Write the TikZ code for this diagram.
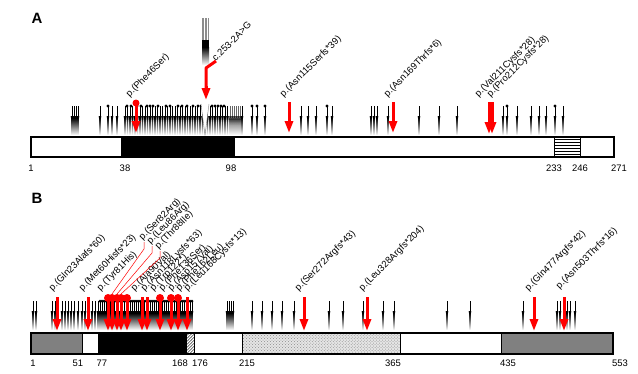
\documentclass[tikz,border=0pt]{standalone}
\usepackage{fontspec}
\setmainfont{Liberation Sans}
\usetikzlibrary{positioning,arrows.meta,patterns}

\begin{document}
\begin{tikzpicture}[x=1bp,y=-1bp]
    \tikzset{mut/.style={font=\fontsize{9.5}{11}\selectfont,rotate=45,anchor=south west,inner sep=0pt},
      num/.style={font=\fontsize{9.5}{11}\selectfont,inner sep=0pt},
      panel/.style={font=\fontsize{15}{17}\selectfont\bfseries,inner sep=0pt},
      redarr/.style={red,line width=3bp,-{Triangle[length=12bp,width=8bp]}},
      rdot/.style={red},
      blk/.pic={
        \draw[line width=0.6bp] (0,0) -- (0,12);
        \fill (-1.3,10) -- (1.3,10) -- (0,19) -- cycle;
        \shade[top color=black,bottom color=white] (-0.6,12) rectangle (0.6,29);
      }}
    \useasboundingbox (0,0) rectangle (638,373);

    %% Teil A
    \node[panel] (pa) at (37,18) {A};

    % Marker oben
    \foreach \x in {72,74,76,78,100,108,112,117,242,252,257,265,301,308,316,327,332,
                    371,374,377,388,419,439,457,503,507,517,531,539,546,555,563}
      \pic at (\x,106) {blk};
    \foreach \x in {125,127.5,...,228}
      \pic at (\x,106) {blk};
    \foreach \x in {230,232,...,240}
      \pic[opacity=0.6] at (\x,106) {blk};
    \foreach \x in {108,127,131,137,141,147,150,153,158,166,170,178,182,187,193,198,
                    201,212,215,218,221,224,252,257,265,327,507,555}
      \fill (\x,106) circle (1.7);

    % Stapel ueber c.253-2A>G
    \foreach \x in {202,203.5,...,209}
      \draw[black!45,line width=0.5bp] (\x,18) -- (\x,40);
    \fill (202,40) rectangle (209,47);
    \shade[top color=black,bottom color=white] (202,47) rectangle (209,65);
    \fill[white] (201,104) -- (209,104) -- (205,135) -- cycle;
    \draw[black!50,line width=0.4bp] (201,104) -- (205,135) -- (209,104);

    % rote Pfeile
    \fill[rdot] (136,103) circle (3.5);
    \draw[redarr] (136,103) -- (136,133);
    \draw[red,line width=3bp,line join=round] (216,61) -- (206,68) -- (206,88);
    \draw[redarr] (206,86) -- (206,100);
    \draw[redarr] (289,102) -- (289,133);
    \draw[redarr] (393,102) -- (393,133);
    \draw[redarr] (489,102) -- (489,134);
    \draw[redarr] (492,102) -- (492,134);

    \node[mut] (phe46) at (131,99) {p.(Phe46Ser)};
    \node[mut] (c253) at (216,62) {c.253-2A>G};
    \node[mut] (asn115) at (285,99) {p.(Asn115Serfs*39)};
    \node[mut] (asn169) at (389,99) {p.(Asn169Thrfs*6)};
    \node[mut] (val211) at (480,99) {p.(Val211Cysfs*28)};
    \node[mut] (pro212) at (492,99) {p.(Pro212Cysfs*28)};

    % Balken A
    \fill (121,137) rectangle (235,157);
    \fill[white] (554,137) rectangle (580,157);
    \fill[pattern=horizontal lines] (554,137) rectangle (580,157);
    \draw[line width=0.6bp] (554,137) -- (554,157) (580,137) -- (580,157);
    \draw[line width=2.2bp] (31,137) rectangle (614,157);

    \node[num] (a1) at (31,168) {1};
    \node[num] (a38) at (125,168) {38};
    \node[num] (a98) at (231,168) {98};
    \node[num] (a233) at (554,168) {233};
    \node[num] (a246) at (580,168) {246};
    \node[num] (a271) at (619,168) {271};

    %% Teil B
    \node[panel] (pb) at (37,198) {B};

    \foreach \x in {33,36,52,55,62,65,68,71,74,78,82,85,92,95,98,227,229,231,233,
                    252,262,272,282,294,329,343,363,383,394,447,470,523,557,560,567,570,575}
      \pic at (\x,301) {blk};
    \foreach \x in {100,102,...,192}
      \pic at (\x,301) {blk};
    \foreach \x in {100,102,...,192}
      \fill (\x,301) circle (1.5);

    % rote Pfeile
    \foreach \x in {108,112,117,121,127,160,171,178}{
      \fill[rdot] (\x,298) circle (4);
      \draw[redarr] (\x,298) -- (\x,331);
    }
    \foreach \x in {57,88,142,147,187,304,367,534,564}
      \draw[redarr] (\x,297) -- (\x,331);

    \node[mut] (gln23) at (54,293) {p.(Gln23Alafs*60)};
    \node[mut] (met60) at (84,293) {p.(Met60Hisfs*23)};
    \node[mut] (tyr81) at (102,293) {p.(Tyr81His)};
    \node[mut] (ser82) at (144,242) {p.(Ser82Arg)};
    \node[mut] (leu86) at (152,246) {p.(Leu86Arg)};
    \node[mut] (thr88) at (160,251) {p.(Thr88Ile)};
    \node[mut] (ala90) at (136,293) {p.(Ala90Val)};
    \node[mut] (asn118) at (146,293) {p.(Asn118Lysfs*63)};
    \node[mut] (trp122) at (155,293) {p.(Trp122*)};
    \node[mut] (phe136) at (164,293) {p.(Phe136Ser)};
    \node[mut] (asp157) at (173,293) {p.(Asp157Val)};
    \node[mut] (phe162) at (181,293) {p.(Phe162Leu)};
    \node[mut] (leu168) at (189,293) {p.(Leu168Cysfs*13)};
    \node[mut] (ser272) at (300,293) {p.(Ser272Argfs*43)};
    \node[mut] (leu328) at (364,293) {p.(Leu328Argfs*204)};
    \node[mut] (gln477) at (530,293) {p.(Gln477Argfs*42)};
    \node[mut] (asn503) at (561,291) {p.(Asn503Thrfs*16)};

    \draw[red,line width=0.5bp] (ser82.south west) -- ++(0,7) -- (112,294);
    \draw[red,line width=0.5bp] (leu86.south west) -- ++(0,7) -- (117,294);
    \draw[red,line width=0.5bp] (thr88.south west) -- ++(0,7) -- (121,294);

    % Balken B
    \fill[black!50] (31,333) rectangle (82,354);
    \fill (98,333) rectangle (186,354);
    \fill[pattern=north east lines] (186,333) rectangle (194,354);
    \fill[black!10] (242,333) rectangle (400,354);
    \fill[pattern=crosshatch dots,pattern color=black!45] (242,333) rectangle (400,354);
    \fill[black!50] (501,333) rectangle (613,354);
    \draw[line width=0.6bp] (82,333) -- (82,354) (98,333) -- (98,354) (186,333) -- (186,354)
      (194,333) -- (194,354) (242,333) -- (242,354) (400,333) -- (400,354) (501,333) -- (501,354);
    \draw[line width=2.2bp] (31,333) rectangle (613,354);

    \node[num] (b1) at (33,363) {1};
    \node[num] (b51) at (78,363) {51};
    \node[num] (b77) at (102,363) {77};
    \node[num] (b168) at (180,363) {168};
    \node[num] (b176) at (200,363) {176};
    \node[num] (b215) at (247,363) {215};
    \node[num] (b365) at (393,363) {365};
    \node[num] (b435) at (508,363) {435};
    \node[num] (b553) at (620,363) {553};
\end{tikzpicture}
\end{document}
